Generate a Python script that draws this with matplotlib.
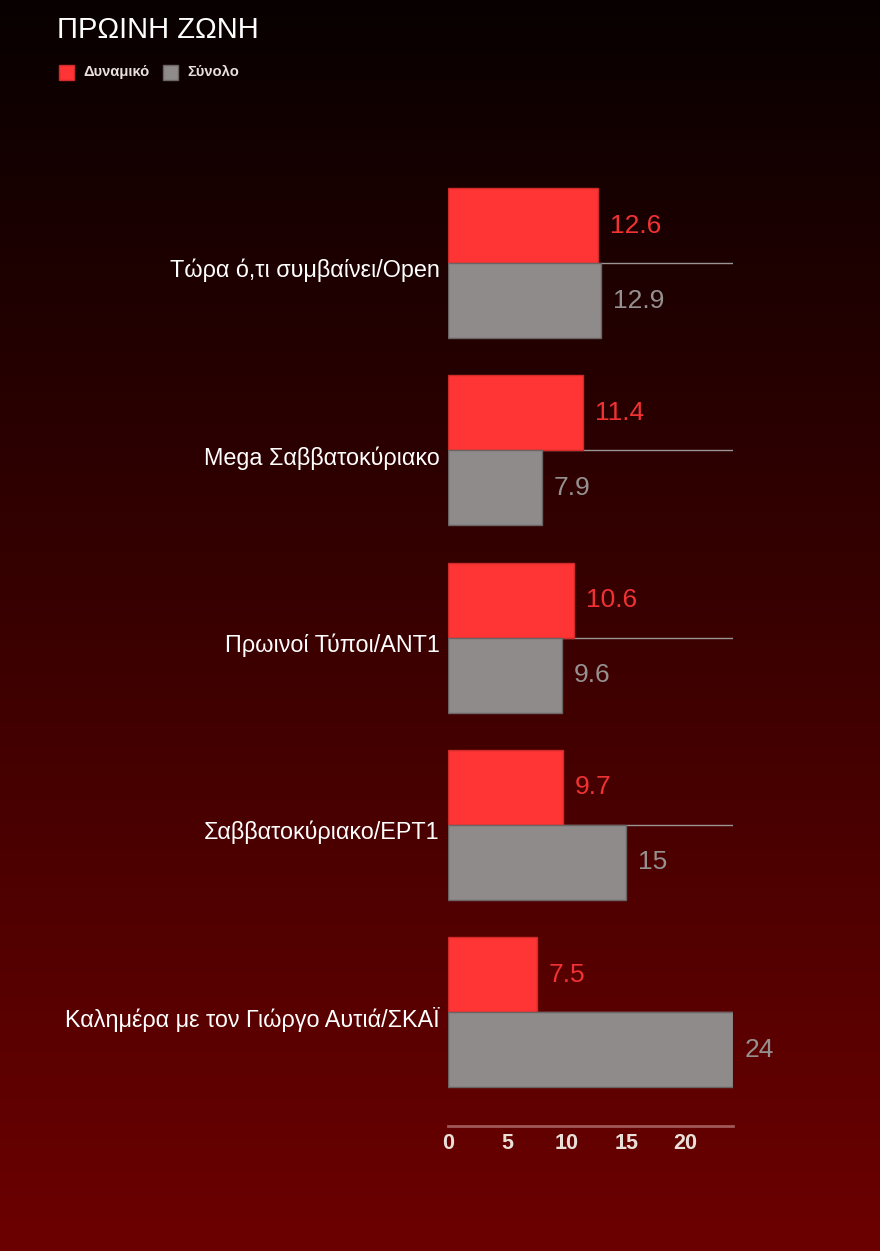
import numpy as np
import matplotlib
matplotlib.use('Agg')
import matplotlib.pyplot as plt
from matplotlib.colors import LinearSegmentedColormap
from matplotlib.patches import Rectangle
from matplotlib.transforms import ScaledTranslation

# Data
title = 'ΠΡΩΙΝΗ ΖΩΝΗ'
categories = [
    'Τώρα ό,τι συμβαίνει/Open',
    'Mega Σαββατοκύριακο',
    'Πρωινοί Τύποι/ANT1',
    'Σαββατοκύριακο/ΕΡΤ1',
    'Καλημέρα με τον Γιώργο Αυτιά/ΣΚΑΪ',
]
series_names = ['Δυναμικό', 'Σύνολο']
dynamiko = [12.6, 11.4, 10.6, 9.7, 7.5]
synolo = [12.9, 7.9, 9.6, 15, 24]
x_ticks = [0, 5, 10, 15, 20]

RED = '#ff3535'
GREY = '#8f8b8a'

plt.rcParams['font.family'] = ['Liberation Sans', 'DejaVu Sans']

fig = plt.figure(figsize=(8.8, 12.51), dpi=100)

# Background gradient (near black at top to dark red at bottom)
bg = fig.add_axes([0, 0, 1, 1], zorder=-10)
grad = np.linspace(0, 1, 256).reshape(-1, 1)
cmap = LinearSegmentedColormap.from_list('bg', ['#080000', '#6c0000'])
bg.imshow(grad, aspect='auto', cmap=cmap, extent=[0, 1, 0, 1], origin='upper')
bg.set_axis_off()

# Main axes
W, H = 880, 1251
left, right = 448 / W, 733 / W
top, bottom = 1 - 169.5 / H, 1 - 1126 / H
ax = fig.add_axes([left, bottom, right - left, top - bottom])
ax.set_facecolor('none')

y = np.arange(len(categories))
bar_h = 0.4

# category lines
for yy in y:
    ax.plot([0, 24], [yy, yy], color='#9a9494', lw=1, zorder=1)

ax.barh(y - bar_h / 2, dynamiko, height=bar_h, color=RED,
        edgecolor='#d02a2a', linewidth=1, zorder=2)
ax.barh(y + bar_h / 2, synolo, height=bar_h, color=GREY,
        edgecolor='#6a6464', linewidth=1, zorder=2)

for yy, v in zip(y, dynamiko):
    ax.annotate(f'{v:g}', (v, yy - bar_h / 2), xytext=(12, 0),
                textcoords='offset pixels', va='center', ha='left',
                color='#f03232', fontsize=19)
for yy, v in zip(y, synolo):
    ax.annotate(f'{v:g}', (v, yy + bar_h / 2), xytext=(12, 0),
                textcoords='offset pixels', va='center', ha='left',
                color='#959190', fontsize=19)

ax.set_xlim(0, 24)
ax.set_ylim(4.608, -0.5)
ax.set_yticks(y, categories)
ax.set_xticks(x_ticks)
ax.tick_params(axis='y', length=0, pad=6, labelsize=16.8, labelcolor='white')
ax.tick_params(axis='x', length=0, pad=5, labelsize=15.5, labelcolor='#e8e0d8')
for lbl in ax.get_xticklabels():
    lbl.set_fontweight('bold')
# labels sit slightly below the category line
shift = ScaledTranslation(0, -5 / 100, fig.dpi_scale_trans)
for lbl in ax.get_yticklabels():
    lbl.set_transform(lbl.get_transform() + shift)
for s in ['top', 'right', 'left']:
    ax.spines[s].set_visible(False)
ax.spines['bottom'].set_color('#a05858')
ax.spines['bottom'].set_linewidth(2)

# Title and legend
fig.text(57 / W, 1 - 30 / H, title, color='white', fontsize=21,
         va='center', ha='left')
leg_x = [59, 163]
for xpx, name, col, ec in zip(leg_x, series_names, [RED, GREY], ['#d02a2a', '#6a6464']):
    fig.patches.append(Rectangle((xpx / W, 1 - 80 / H), 15 / W, 15 / H,
                                 transform=fig.transFigure, facecolor=col,
                                 edgecolor=ec, linewidth=1))
    fig.text((xpx + 24) / W, 1 - 72 / H, name, color='#e8e0e0', fontsize=10.6,
             fontweight='bold', va='center', ha='left')

fig.savefig('out.png', dpi=100)
